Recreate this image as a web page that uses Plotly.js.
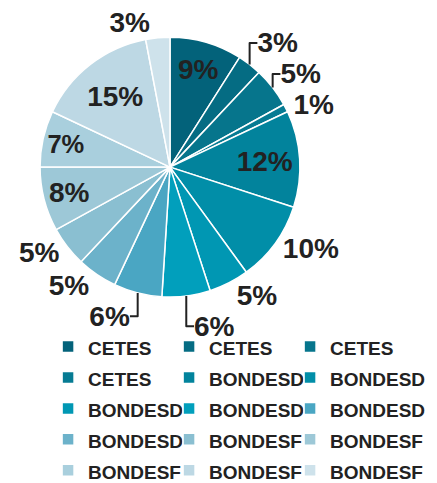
<!DOCTYPE html>
<html>
<head>
<meta charset="utf-8">
<script src="https://cdn.plot.ly/plotly-3.0.1.min.js"></script>
<style>html,body{margin:0;padding:0;background:#fff}#chart{width:437px;height:483px}</style>
</head>
<body>
<div id="chart"></div>
<script>
var names = ["CETES","CETES","CETES","CETES","BONDESD","BONDESD","BONDESD","BONDESD","BONDESD","BONDESD","BONDESF","BONDESF","BONDESF","BONDESF","BONDESF"];
var values = [9, 3, 5, 1, 12, 10, 5, 6, 6, 5, 5, 8, 7, 15, 3];
var colors = ["#03627a","#056c83","#06758c","#067b93","#02839c","#018ea8","#0097b3","#019fbc","#4aa6c3","#6cb2ca","#8abfd1","#9dc8d7","#a9cfdd","#bdd8e4","#cee2eb"];
var textPositions = ["inside","outside","outside","outside","inside","outside","outside","outside","outside","outside","outside","inside","inside","inside","outside"];

// unique labels (pie merges equal labels), display identical text
var labels = names.map(function(n, i){
  return '<span style="font-size:19px"><b>' + n + '\u200b'.repeat(i + 1) + '</b></span>';
});

var fam = 'Liberation Sans, Arial, sans-serif';
var trace = {
  type: 'pie',
  labels: labels,
  values: values,
  sort: false,
  direction: 'clockwise',
  rotation: 0,
  marker: {colors: colors, line: {color: '#ffffff', width: 1.5}},
  textposition: textPositions,
  insidetextorientation: 'horizontal',
  textfont: {family: fam, size: 28, color: '#222222'},
  insidetextfont: {family: fam, size: 28, color: '#222222'},
  outsidetextfont: {family: fam, size: 28, color: '#222222'},
  texttemplate: '<b>%{percent}</b>',
  hoverinfo: 'none',
  domain: {x: [0.0915, 0.6865], y: [0.385, 0.923]},
  automargin: false
};

var layout = {
  width: 437, height: 483,
  margin: {l: 0, r: 0, t: 0, b: 0, autoexpand: false},
  paper_bgcolor: '#ffffff',
  showlegend: true,
  legend: {
    orientation: 'h',
    x: 0.11, y: 0.3304, xanchor: 'left', yanchor: 'top',
    bgcolor: 'rgba(0,0,0,0)',
    title: {text: '\u00a0'.repeat(760), side: 'top', font: {size: 2, family: fam}},
    font: {family: fam, size: 21.5, color: '#222222'},
    entrywidth: 76, entrywidthmode: 'pixels',
    traceorder: 'normal'
  }
};

Plotly.newPlot('chart', [trace], layout, {displayModeBar: false, staticPlot: true});
</script>
</body>
</html>
